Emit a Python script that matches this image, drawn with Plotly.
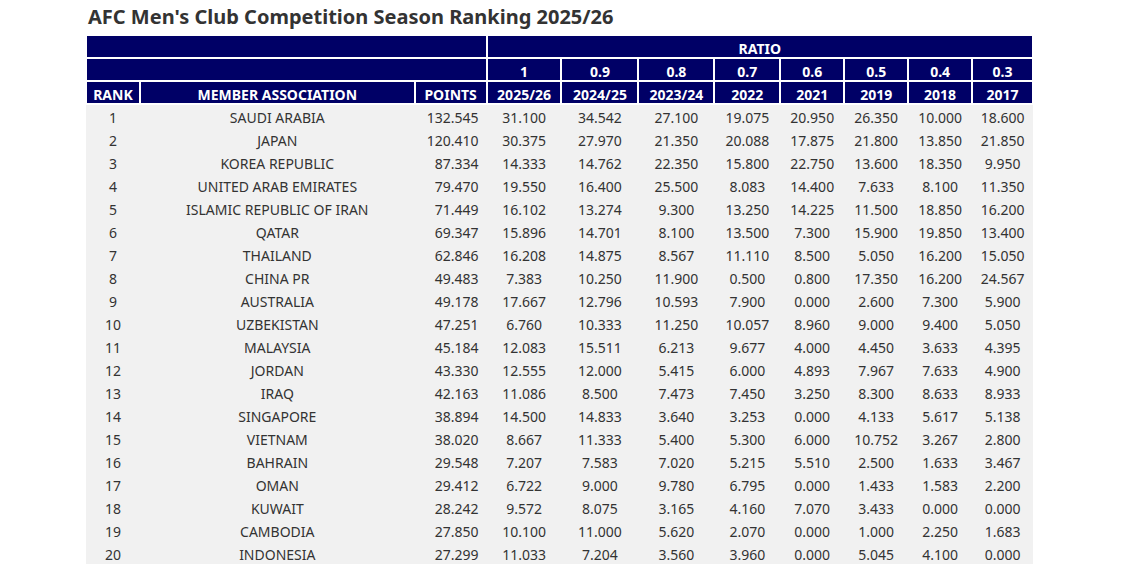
import plotly.graph_objects as go

ranks = list(range(1, 21))
associations = ["SAUDI ARABIA","JAPAN","KOREA REPUBLIC","UNITED ARAB EMIRATES","ISLAMIC REPUBLIC OF IRAN","QATAR","THAILAND","CHINA PR","AUSTRALIA","UZBEKISTAN","MALAYSIA","JORDAN","IRAQ","SINGAPORE","VIETNAM","BAHRAIN","OMAN","KUWAIT","CAMBODIA","INDONESIA"]
points = ["132.545","120.410","87.334","79.470","71.449","69.347","62.846","49.483","49.178","47.251","45.184","43.330","42.163","38.894","38.020","29.548","29.412","28.242","27.850","27.299"]
ratios = ["1","0.9","0.8","0.7","0.6","0.5","0.4","0.3"]
seasons = ["2025/26","2024/25","2023/24","2022","2021","2019","2018","2017"]
s2025 = ["31.100","30.375","14.333","19.550","16.102","15.896","16.208","7.383","17.667","6.760","12.083","12.555","11.086","14.500","8.667","7.207","6.722","9.572","10.100","11.033"]
s2024 = ["34.542","27.970","14.762","16.400","13.274","14.701","14.875","10.250","12.796","10.333","15.511","12.000","8.500","14.833","11.333","7.583","9.000","8.075","11.000","7.204"]
s2023 = ["27.100","21.350","22.350","25.500","9.300","8.100","8.567","11.900","10.593","11.250","6.213","5.415","7.473","3.640","5.400","7.020","9.780","3.165","5.620","3.560"]
s2022 = ["19.075","20.088","15.800","8.083","13.250","13.500","11.110","0.500","7.900","10.057","9.677","6.000","7.450","3.253","5.300","5.215","6.795","4.160","2.070","3.960"]
s2021 = ["20.950","17.875","22.750","14.400","14.225","7.300","8.500","0.800","0.000","8.960","4.000","4.893","3.250","0.000","6.000","5.510","0.000","7.070","0.000","0.000"]
s2019 = ["26.350","21.800","13.600","7.633","11.500","15.900","5.050","17.350","2.600","9.000","4.450","7.967","8.300","4.133","10.752","2.500","1.433","3.433","1.000","5.045"]
s2018 = ["10.000","13.850","18.350","8.100","18.850","19.850","16.200","16.200","7.300","9.400","3.633","7.633","8.633","5.617","3.267","1.633","1.583","0.000","2.250","4.100"]
s2017 = ["18.600","21.850","9.950","11.350","16.200","13.400","15.050","24.567","5.900","5.050","4.395","4.900","8.933","5.138","2.800","3.467","2.200","0.000","1.683","0.000"]

W, H = 1133, 564
OFF = 8  # page body offset
NAVY = "#000066"
GRAY = "#f1f1f1"
x0, x1 = (86 - OFF) / W, (1033 - OFF) / W
lead_w = [54, 275, 72]
ratio_w = [75, 77, 76, 66, 64, 64, 64, 61]
hfont = dict(family="Noto Sans", size=14, color="white", weight="bold")
hline = dict(color="white", width=2)

def ydom(top):
    return [0, 1 - (top - OFF) / H]

fig = go.Figure()
fig.add_trace(go.Table(
    domain=dict(x=[x0, x1], y=ydom(35)),
    columnwidth=[sum(lead_w), sum(ratio_w)],
    header=dict(values=["", "RATIO"], fill_color=NAVY, line=hline, font=hfont, height=23, align="center"),
    cells=dict(values=[[], []])))
fig.add_trace(go.Table(
    domain=dict(x=[x0, x1], y=ydom(58)),
    columnwidth=[sum(lead_w)] + ratio_w,
    header=dict(values=[""] + ratios, fill_color=NAVY, line=hline, font=hfont, height=23, align="center"),
    cells=dict(values=[[] for _ in range(9)])))
fig.add_trace(go.Table(
    domain=dict(x=[x0, x1], y=ydom(81)),
    columnwidth=lead_w + ratio_w,
    header=dict(values=["RANK", "MEMBER ASSOCIATION", "POINTS"] + seasons, fill_color=NAVY, line=hline, font=hfont, height=23, align="center"),
    cells=dict(values=[ranks, associations, points, s2025, s2024, s2023, s2022, s2021, s2019, s2018, s2017],
               fill_color=GRAY, line=dict(color=GRAY, width=1), height=23,
               font=dict(family="Noto Sans", size=14, color="#333333"),
               align=["center", "center", "right"] + ["center"] * 8)))

fig.add_annotation(text="<b>AFC Men's Club Competition Season Ranking 2025/26</b>", xref="paper", yref="paper",
                   x=(86 - OFF) / W, y=1 - (17 - OFF) / H, xanchor="left", yanchor="middle", showarrow=False,
                   font=dict(family="Noto Sans", size=20, color="#333333"))
fig.update_layout(width=W, height=H, margin=dict(l=0, r=0, t=0, b=0), paper_bgcolor="white", plot_bgcolor="white")
fig.write_html("out.html")
